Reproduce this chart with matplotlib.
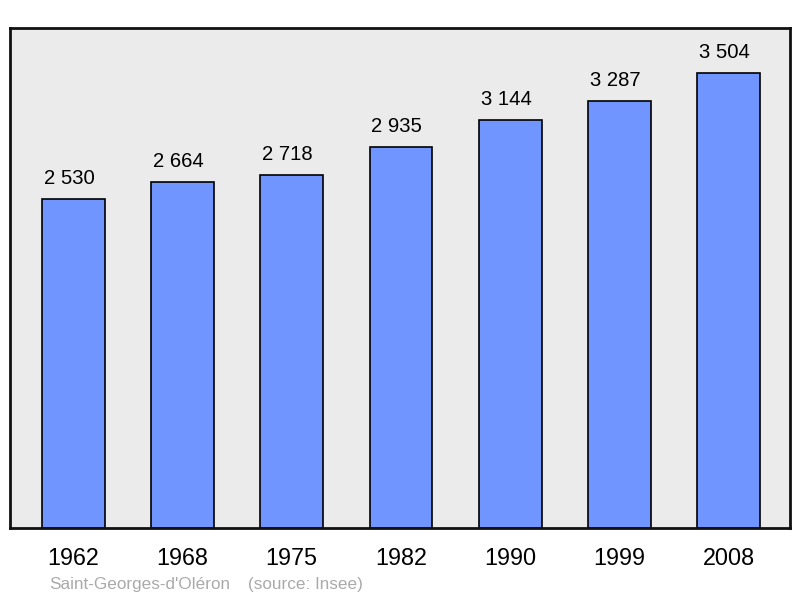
import matplotlib
matplotlib.use("Agg")
import matplotlib.pyplot as plt

years = ["1962", "1968", "1975", "1982", "1990", "1999", "2008"]
population = [2530, 2664, 2718, 2935, 3144, 3287, 3504]
value_labels = ["2 530", "2 664", "2 718", "2 935", "3 144", "3 287", "3 504"]

plt.rcParams['font.family'] = ['Liberation Sans', 'DejaVu Sans']

fig = plt.figure(figsize=(8, 5.98), dpi=100)
ax = fig.add_axes([0.0125, 1 - 528 / 598, 0.975, 500 / 598])
ax.set_facecolor('#ebebeb')

x = list(range(len(years)))
ax.bar(x, population, width=0.576, color='#7095ff', edgecolor='black', linewidth=1.2, zorder=2)
for xi, v, lab in zip(x, population, value_labels):
    ax.annotate(lab, (xi, v), xytext=(-3, 8), textcoords='offset points',
                ha='center', va='bottom', fontsize=14.6, color='black')

ax.set_xlim(-0.578, 6.56)
ax.set_ylim(0, 3850)
ax.set_yticks([])
ax.set_xticks(x)
ax.set_xticklabels(years, fontsize=16.8)
ax.tick_params(axis='x', length=0, pad=14)
for s in ax.spines.values():
    s.set_linewidth(2)
    s.set_color('#111111')

fig.text(49 / 800, 1 - 584 / 598, "Saint-Georges-d'Oléron", fontsize=12.3, color='#aaaaaa', va='center', ha='left')
fig.text(248 / 800, 1 - 584 / 598, "(source: Insee)", fontsize=12.3, color='#aaaaaa', va='center', ha='left')

fig.savefig('out.png', dpi=100)
